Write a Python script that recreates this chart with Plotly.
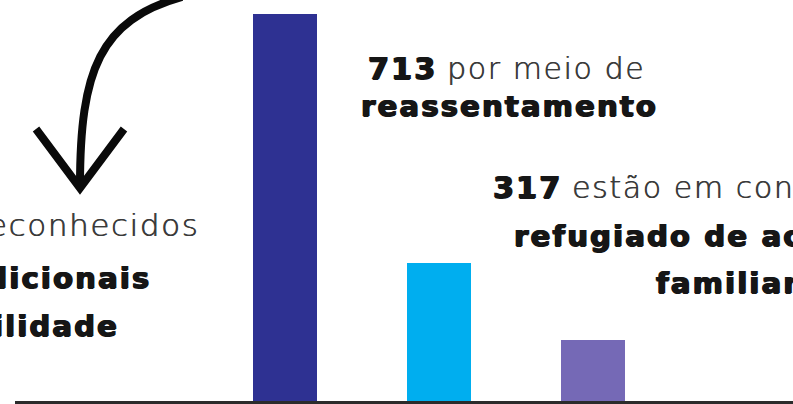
import plotly.graph_objects as go

W, H = 793, 404

# Refugee recognition routes (counts)
categories = ["Vias tradicionais", "Reassentamento", "Reunião familiar"]
values = [2000, 713, 317]
bar_colors = ["#2e3192", "#00aeef", "#7569b6"]

FAMILY = "DejaVu Sans"
LIGHT_COLOR = "#3a3a3a"
DARK = "#161616"


def px(x):
    return x / W


def py(y):
    return 1 - y / H


fig = go.Figure()
fig.add_trace(go.Bar(
    x=list(range(len(categories))),
    y=values,
    marker=dict(color=bar_colors, line=dict(width=0)),
    width=0.416,
    hoverinfo="skip",
))

fig.update_layout(
    width=W, height=H,
    margin=dict(l=0, r=0, t=0, b=0),
    paper_bgcolor="white", plot_bgcolor="white",
    showlegend=False,
    bargap=0,
    xaxis=dict(domain=[15 / W, 1], range=[-1.753, 3.299],
               showgrid=False, zeroline=False, showticklabels=False,
               showline=True, linecolor="#2b2b2b", linewidth=3, ticks=""),
    yaxis=dict(domain=[3 / H, 1], range=[0, 2072],
               showgrid=False, zeroline=False, showticklabels=False,
               showline=False, ticks=""),
)


def heavy(s):
    return (f'<span style="font-weight:bold;letter-spacing:2.2px;'
            f'text-shadow:1px 0 0 {DARK},-0.7px 0 0 {DARK},0 0.5px 0 {DARK}">{s}</span>')


def light(s):
    return (f'<span style="font-weight:300;letter-spacing:1.6px;'
            f'color:{LIGHT_COLOR};text-shadow:0.6px 0 0 {LIGHT_COLOR}">{s}</span>')


def label(x, y, text, anchor, size):
    fig.add_annotation(
        x=px(x), y=py(y), xref="paper", yref="paper",
        text=text, showarrow=False, xanchor=anchor, yanchor="middle",
        font=dict(family=FAMILY, size=size, color=DARK),
    )


# Left caption
label(201, 225, light("reconhecidos"), "right", 31)
label(153, 278, heavy("tradicionais"), "right", 29)
label(121, 326, heavy("elegibilidade"), "right", 29)

# Resettlement caption
label(366, 68, heavy("713") + " " + light("por meio de"), "left", 30)
label(359, 106, heavy("reassentamento"), "left", 29)

# Family reunion caption
label(491, 187, heavy("317") + " " + light("estão em condição de"), "left", 30)
label(512, 236, heavy("refugiado de acordo"), "left", 29)
label(654, 283, heavy("familiar"), "left", 29)


# Curved arrow pointing down to the left caption
def pt(x, y):
    return f"{px(x):.5f},{py(y):.5f}"


fig.add_shape(type="path", xref="paper", yref="paper",
              path=f"M {pt(182, -3)} C {pt(100, 20)} {pt(80, 70)} {pt(80, 186)}",
              line=dict(color="#0a0a0a", width=8))
fig.add_shape(type="path", xref="paper", yref="paper",
              path=f"M {pt(36, 129)} L {pt(80, 188)} L {pt(124, 129)}",
              line=dict(color="#0a0a0a", width=8))

fig.write_html("out.html")
